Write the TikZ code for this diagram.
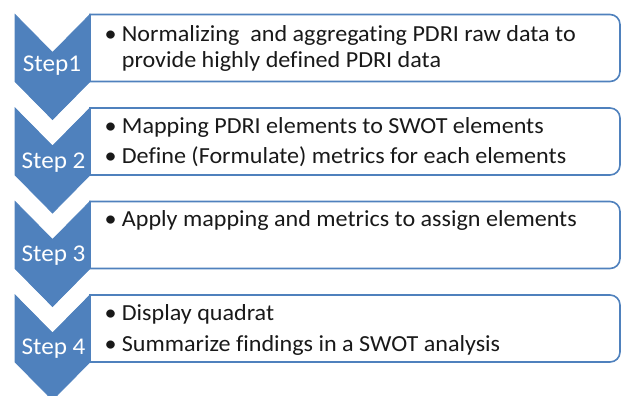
\documentclass[tikz,border=0pt]{standalone}
\usepackage{fontspec}
\setmainfont{Carlito}
\newfontfamily\wfont[FakeStretch=1.048,Ligatures={NoCommon}]{Carlito}
\definecolor{accent}{HTML}{4F81BD}
\begin{document}
\begin{tikzpicture}[x=1pt,y=-1pt,
  chev/.style={fill=accent,draw=accent,line width=0.8pt,line join=miter},
  boxln/.style={draw=accent,line width=1.6pt,fill=white},
  steplbl/.style={text=white,font=\wfont\fontsize{24}{28}\selectfont,anchor=base,inner sep=0pt},
  itemtxt/.style={font=\wfont\fontsize{23}{27}\selectfont,anchor=base west,inner sep=0pt,text=black!90},
  bul/.style={font=\wfont\fontsize{23}{27}\selectfont,anchor=base,inner sep=0pt,text=black!90}]
\useasboundingbox (0,0) rectangle (622,396);
\begin{scope}
\clip (0,0) rectangle (622,396);
\foreach \i/\yy in {1/14.5,2/108,3/201.5,4/295}{
  \draw[boxln] (90,\yy) -- (610,\yy) arc[start angle=-90,end angle=0,radius=10]
     -- (620,\yy+57) arc[start angle=0,end angle=90,radius=10] -- (90,\yy+67) -- cycle;
  \draw[chev] (15,\yy) -- (52.5,\yy+38) -- (90,\yy) -- (90,\yy+67) -- (52.5,\yy+105) -- (15,\yy+67) -- cycle;
}
\end{scope}
\node[steplbl] (s1) at (52,72) {Step1};
\node[steplbl] (s2) at (53.5,168) {Step 2};
\node[steplbl] (s3) at (53.5,261) {Step 3};
\node[steplbl] (s4) at (53.5,354) {Step 4};
% box 1
\node[bul] (b1) at (110.7,42) {•};
\node[itemtxt] (t1a) at (121.7,42) {Normalizing\ \ and aggregating PDRI raw data to};
\node[itemtxt] (t1b) at (121.7,68) {provide highly defined PDRI data};
% box 2
\node[bul] (b2a) at (110.7,134) {•};
\node[itemtxt] (t2a) at (121.7,134) {Mapping PDRI elements to SWOT elements};
\node[bul] (b2b) at (110.7,164) {•};
\node[itemtxt] (t2b) at (121.7,164) {Define (Formulate) metrics for each elements};
% box 3
\node[bul] (b3) at (110.7,226) {•};
\node[itemtxt] (t3) at (121.7,226) {Apply mapping and metrics to assign elements};
% box 4
\node[bul] (b4a) at (110.7,320) {•};
\node[itemtxt] (t4a) at (121.7,320) {Display quadrat};
\node[bul] (b4b) at (110.7,351) {•};
\node[itemtxt] (t4b) at (121.7,351) {Summarize findings in a SWOT analysis};
\end{tikzpicture}
\end{document}
